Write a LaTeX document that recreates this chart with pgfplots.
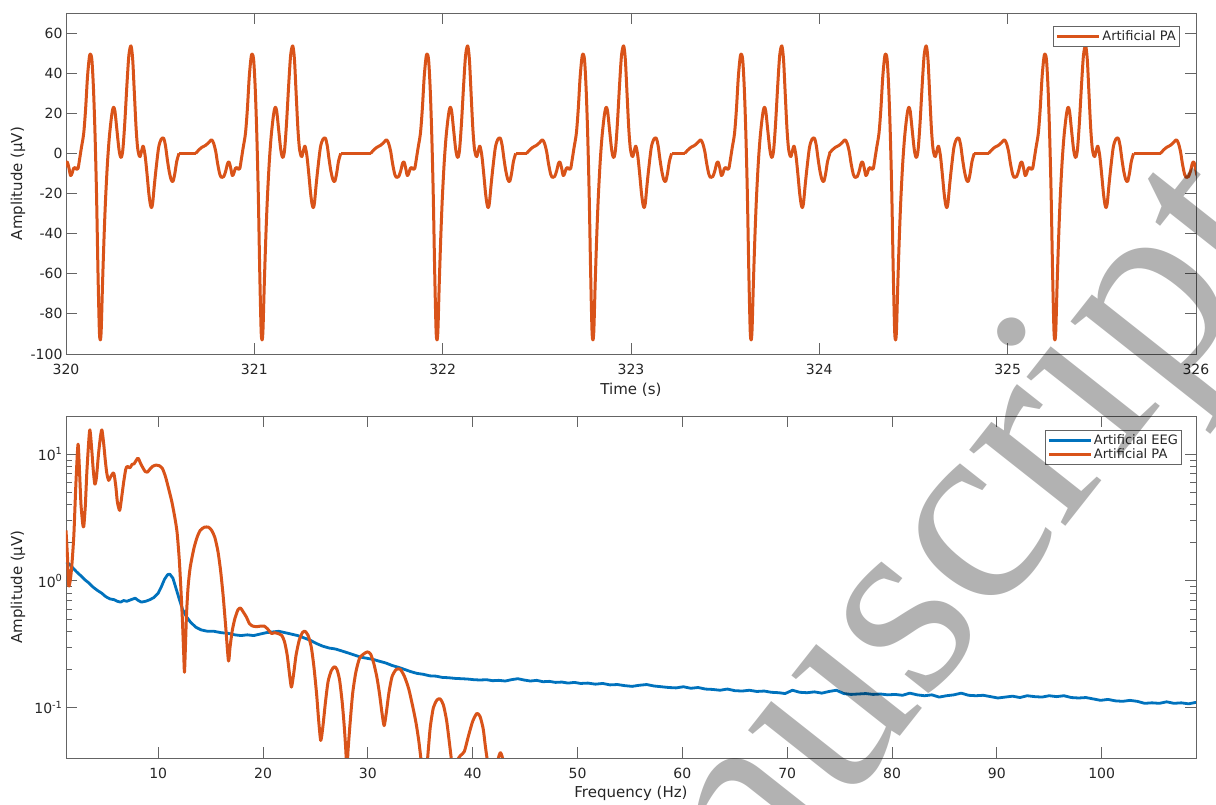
\documentclass[border=0pt]{standalone}
\usepackage{pgfplots}
\pgfplotsset{compat=1.18}
\usepackage{pgfplotstable}
\usepackage{fontspec}
\setmainfont{DejaVu Sans}
\newfontfamily\wmfont{Liberation Serif}
\definecolor{mlblue}{rgb}{0,0.447,0.741}
\definecolor{mlorange}{rgb}{0.85,0.325,0.098}
\definecolor{axtext}{RGB}{38,38,38}
\definecolor{axline}{RGB}{100,100,100}

% one pulse artefact template (time relative to the main trough, amplitude in uV)
\pgfplotstableread{
dt v
-0.352 0
-0.338 1.5
-0.320 3
-0.300 4
-0.282 5.5
-0.268 6.8
-0.257 5
-0.246 1
-0.236 -5
-0.224 -10.5
-0.214 -12
-0.203 -11.5
-0.192 -8.5
-0.183 -5
-0.175 -4.3
-0.167 -7
-0.158 -11
-0.150 -10
-0.142 -7.5
-0.134 -7
-0.126 -8
-0.118 -7.5
-0.110 -3
-0.100 3
-0.088 10
-0.078 22
-0.068 38
-0.058 48
-0.051 49.5
-0.044 46
-0.036 32
-0.028 10
-0.020 -20
-0.012 -60
-0.005 -88
0 -93
0.005 -88
0.012 -65
0.020 -42
0.028 -23
0.038 -5
0.048 8
0.058 17
0.065 21.5
0.071 23
0.078 21
0.088 12
0.098 3
0.105 -1
0.112 -2
0.120 2
0.130 15
0.142 35
0.152 49
0.163 53.6
0.172 47
0.180 32
0.190 13
0.198 3
0.206 -1
0.212 -1.5
0.220 1.5
0.228 3.6
0.238 -1
0.248 -10
0.258 -20
0.266 -25.5
0.272 -27
0.278 -25
0.287 -16
0.297 -7
0.310 3
0.323 7
0.336 7.6
0.346 4
0.356 -3
0.366 -9
0.376 -13
0.386 -14
0.396 -10
0.406 -4
0.418 0
}\tmpl

\pgfplotstableread{
f v
1.2 1.40
1.5 1.36
1.8 1.28
2.2 1.18
2.6 1.10
3.0 1.02
3.4 0.96
3.8 0.89
4.2 0.84
4.6 0.80
5.0 0.75
5.4 0.72
5.8 0.71
6.1 0.69
6.4 0.68
6.7 0.70
7.0 0.69
7.4 0.71
7.8 0.73
8.1 0.70
8.4 0.68
8.8 0.69
9.2 0.71
9.6 0.74
10.0 0.80
10.3 0.90
10.6 1.03
10.9 1.12
11.1 1.13
11.4 1.05
11.7 0.87
12.0 0.72
12.3 0.60
12.7 0.52
13.1 0.47
13.6 0.43
14.1 0.41
14.7 0.40
15.3 0.40
16.0 0.39
16.7 0.385
17.3 0.375
17.9 0.37
18.5 0.375
19.1 0.37
19.7 0.38
20.3 0.39
20.9 0.395
21.5 0.40
22.1 0.39
22.7 0.38
23.3 0.37
23.9 0.355
24.5 0.34
25.1 0.32
25.7 0.305
26.3 0.295
26.9 0.29
27.5 0.28
28.1 0.27
28.7 0.26
29.3 0.25
29.9 0.245
30.5 0.24
31.1 0.232
31.7 0.225
32.3 0.215
32.9 0.208
33.5 0.2
34.1 0.192
34.7 0.186
35.3 0.183
35.9 0.178
36.5 0.177
37.1 0.173
37.7 0.172
38.3 0.17
38.9 0.169
39.5 0.168
40.1 0.166
40.7 0.165
41.3 0.166
41.9 0.163
42.5 0.164
43.1 0.162
43.7 0.166
44.3 0.169
44.9 0.165
45.5 0.162
46.1 0.164
46.7 0.16
47.3 0.161
47.9 0.158
48.5 0.159
49.1 0.156
49.7 0.158
50.3 0.155
51.0 0.156
51.7 0.153
52.4 0.155
53.1 0.151
53.8 0.152
54.5 0.149
55.2 0.147
55.9 0.15
56.6 0.152
57.3 0.148
58.0 0.146
58.7 0.144
59.4 0.143
60.1 0.146
60.8 0.142
61.5 0.144
62.2 0.14
62.9 0.139
63.6 0.137
64.3 0.14
65.0 0.136
65.7 0.135
66.4 0.137
67.1 0.134
67.8 0.135
68.5 0.132
69.2 0.131
69.8 0.129
70.5 0.137
71.2 0.132
71.9 0.131
72.6 0.133
73.3 0.13
74.0 0.134
74.7 0.137
75.4 0.129
76.1 0.127
76.8 0.128
77.5 0.129
78.2 0.127
78.9 0.128
79.6 0.126
80.3 0.127
81.0 0.125
81.7 0.13
82.4 0.126
83.1 0.124
83.8 0.126
84.5 0.121
85.2 0.124
85.9 0.126
86.6 0.13
87.3 0.125
88.0 0.124
88.7 0.125
89.4 0.122
90.1 0.119
90.8 0.121
91.5 0.123
92.2 0.12
92.9 0.124
93.6 0.122
94.3 0.121
95.0 0.124
95.7 0.122
96.4 0.124
97.1 0.12
97.8 0.119
98.5 0.12
99.2 0.117
99.9 0.114
100.6 0.116
101.3 0.113
102.0 0.112
102.7 0.114
103.4 0.112
104.1 0.108
104.8 0.109
105.5 0.108
106.2 0.111
106.9 0.108
107.6 0.109
108.3 0.107
109.0 0.11
}\eegspec

\pgfplotstableread{
f v
1.2 2.5
1.35 1.5
1.46 0.92
1.6 1.0
1.75 1.3
1.95 2.3
2.15 6
2.35 12
2.5 7
2.63 4
2.8 2.8
2.9 2.7
3.05 4
3.2 7.5
3.46 15.5
3.65 11
3.8 7.5
3.95 5.8
4.1 6.5
4.3 10
4.5 14
4.63 15.5
4.8 12
4.95 8.9
5.1 7
5.27 6.2
5.45 6.6
5.75 7.1
5.95 5.6
6.1 4.2
6.32 3.6
6.5 4.5
6.7 6
6.9 7.6
7.05 8
7.3 7.8
7.5 8.3
7.7 8.4
8.06 9.3
8.3 8.5
8.5 7.9
8.75 7.3
8.95 7.2
9.2 7.6
9.45 8
9.8 8.2
10.1 8.1
10.4 7.7
10.7 6.6
11.0 5.3
11.3 4.2
11.6 3.1
11.8 2.4
12.0 1.5
12.15 0.9
12.3 0.5
12.42 0.28
12.5 0.19
12.58 0.28
12.7 0.55
12.85 0.9
13.05 1.28
13.4 1.8
13.7 2.2
14.0 2.5
14.4 2.65
14.8 2.65
15.1 2.5
15.4 2.2
15.7 1.7
15.95 1.2
16.2 0.75
16.45 0.42
16.7 0.233
16.85 0.3
17.05 0.4
17.3 0.5
17.6 0.59
17.85 0.61
18.1 0.57
18.4 0.52
18.7 0.46
19.0 0.44
19.4 0.435
19.8 0.44
20.1 0.44
20.4 0.42
20.8 0.385
21.1 0.39
21.4 0.385
21.8 0.37
22.05 0.33
22.3 0.26
22.5 0.19
22.7 0.145
22.9 0.18
23.15 0.26
23.45 0.34
23.75 0.39
24.0 0.40
24.3 0.37
24.6 0.3
24.85 0.21
25.1 0.13
25.3 0.08
25.5 0.055
25.7 0.07
25.95 0.11
26.2 0.16
26.5 0.195
26.8 0.21
27.05 0.2
27.3 0.165
27.55 0.11
27.75 0.07
27.9 0.045
28.0 0.03
28.1 0.045
28.3 0.075
28.55 0.13
28.85 0.19
29.2 0.245
29.6 0.265
29.95 0.275
30.25 0.265
30.55 0.225
30.85 0.175
31.1 0.13
31.35 0.09
31.55 0.072
31.75 0.09
32.0 0.13
32.3 0.175
32.7 0.2
33.1 0.2
33.5 0.175
33.9 0.14
34.3 0.1
34.6 0.075
34.85 0.055
35.05 0.04
35.2 0.03
35.4 0.02
35.7 0.04
35.95 0.07
36.25 0.1
36.6 0.115
36.9 0.117
37.2 0.105
37.5 0.08
37.75 0.055
37.95 0.04
38.15 0.03
38.5 0.038
38.85 0.042
39.2 0.045
39.6 0.06
40.0 0.078
40.4 0.09
40.7 0.085
41.0 0.068
41.2 0.05
41.4 0.038
41.6 0.03
42.0 0.02
42.4 0.038
42.65 0.044
42.9 0.038
43.1 0.025
43.5 0.01
}\paspec

\pgfplotsset{
  mlaxis/.style={
    scale only axis, width=1130pt,
    axis line style={draw=axline, line width=0.8pt},
    tick style={draw=axline, line width=0.8pt},
    major tick length=11pt, minor tick length=6pt,
    tick align=inside,
    ticklabel style={font=\fontsize{14}{16}\selectfont, text=axtext},
    xticklabel style={yshift=-7pt},
    label style={font=\fontsize{15}{18}\selectfont, text=axtext},
    /pgf/number format/assume math mode=true,
    legend style={font=\fontsize{13}{15}\selectfont, draw=axline, line width=0.8pt, text=axtext,
      inner xsep=2pt, inner ysep=2.5pt, nodes={inner sep=1.6pt}},
    legend cell align=left,
  }
}

\begin{document}
\begin{tikzpicture}[x=1pt,y=1pt]
\useasboundingbox (0,0) rectangle (1216,805);
\fill[white] (0,0) rectangle (1216,805);

\begin{axis}[mlaxis, at={(66pt,451pt)}, anchor=south west, height=341pt,
  xmin=320, xmax=326, ymin=-100, ymax=70,
  xtick={320,321,...,326}, ytick={-100,-80,...,60},
  xlabel={Time (s)}, ylabel={Amplitude (µV)},
  xlabel style={at={(axis description cs:0.5,-0.1056)}, anchor=center},
  ylabel style={at={(axis description cs:-0.0425,0.5)}, anchor=center},
  legend style={at={(axis description cs:0.9858,0.962)}, anchor=north east},
  legend image code/.code={\draw[#1] (0pt,0pt) -- (42pt,0pt);},
]
\pgfplotsinvokeforeach{320.182,321.041,321.970,322.798,323.638,324.405,325.251,326.164}{
  \addplot[mlorange, line width=3pt, smooth, tension=0.5, line join=round, forget plot]
    table[x expr=\thisrow{dt}+#1, y=v]{\tmpl};
}
\addplot[mlorange, line width=3pt, forget plot] coordinates {(319.5,0) (319.83,0)};
\addplot[mlorange, line width=3pt, forget plot] coordinates {(320.600,0) (320.689,0)};
\addplot[mlorange, line width=3pt, forget plot] coordinates {(321.459,0) (321.618,0)};
\addplot[mlorange, line width=3pt, forget plot] coordinates {(322.388,0) (322.446,0)};
\addplot[mlorange, line width=3pt, forget plot] coordinates {(323.216,0) (323.286,0)};
\addplot[mlorange, line width=3pt, forget plot] coordinates {(324.823,0) (324.899,0)};
\addplot[mlorange, line width=3pt, forget plot] coordinates {(325.669,0) (325.812,0)};
\addlegendimage{mlorange, line width=3pt}
\addlegendentry{Artificial PA}
\end{axis}

\begin{axis}[mlaxis, at={(66pt,47pt)}, anchor=south west, height=342pt,
  ymode=log, xmin=1.2, xmax=109, ymin=0.04, ymax=20,
  xtick={10,20,...,100}, ytick={0.1,1,10},
  yticklabels={10\textsuperscript{-1},10\textsuperscript{0},10\textsuperscript{1}},
  xlabel={Frequency (Hz)}, ylabel={Amplitude (µV)},
  xlabel style={at={(axis description cs:0.5,-0.102)}, anchor=center},
  ylabel style={at={(axis description cs:-0.0425,0.5)}, anchor=center},
  legend style={at={(axis description cs:0.9876,0.959)}, anchor=north east},
  legend image code/.code={\draw[#1] (0pt,0pt) -- (42pt,0pt);},
]
\addplot[mlblue, line width=2.8pt, line join=round] table[x=f, y=v]{\eegspec};
\addlegendentry{Artificial EEG}
\addplot[mlorange, line width=3pt, smooth, tension=0.4, line join=round] table[x=f, y=v]{\paspec};
\addlegendentry{Artificial PA}
\end{axis}

\node[rotate=51.7, anchor=base east, inner sep=0, text=black, text opacity=0.3,
      font=\wmfont\fontsize{267}{267}\selectfont] at (1292.6,565.8) {Manuscript};
\end{tikzpicture}
\end{document}
